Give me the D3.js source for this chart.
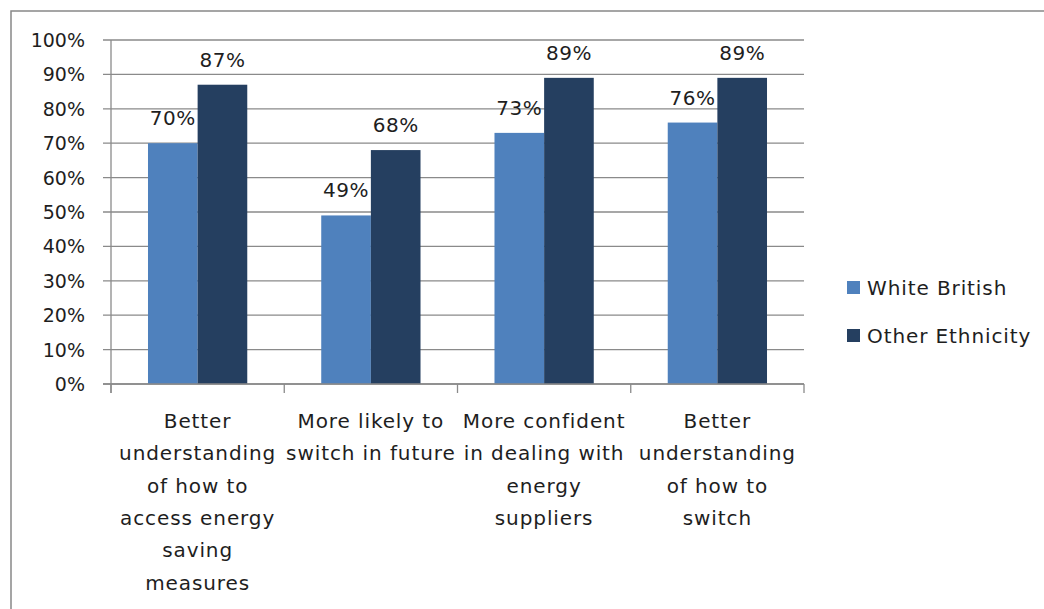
<!DOCTYPE html>
<html>
<head>
  <script src="https://d3js.org/d3.v7.min.js"></script>
  <style>
    body { margin: 0; background: #fff; }
    text { font-family: "DejaVu Sans", sans-serif; fill: #1e1e1e; }
    .grid line { stroke: #8a8a8a; stroke-width: 1.3px; }
  </style>
</head>
<body>
  <svg width="1044" height="609"></svg>
  <script>
    const categories = [
      ["Better", "understanding", "of how to", "access energy", "saving", "measures"],
      ["More likely to", "switch in future"],
      ["More confident", "in dealing with", "energy", "suppliers"],
      ["Better", "understanding", "of how to", "switch"]
    ];
    const seriesNames = ["White British", "Other Ethnicity"];
    const whiteBritish = [70, 49, 73, 76];
    const otherEthnicity = [87, 68, 89, 89];
    const yTicks = [0, 10, 20, 30, 40, 50, 60, 70, 80, 90, 100];
    const colors = ["#4f81bd", "#253f60"];

    const svg = d3.select('svg');
    const values = [whiteBritish, otherEthnicity];

    // outer chart border (runs off right and bottom like the source)
    svg.append('rect')
      .attr('x', 11).attr('y', 11)
      .attr('width', 1040).attr('height', 610)
      .attr('fill', 'none').attr('stroke', '#888').attr('stroke-width', 1.5);

    const plotLeft = 111, plotRight = 804, plotTop = 40, plotBottom = 384;

    const x0 = d3.scaleBand().domain(d3.range(categories.length)).range([plotLeft, plotRight]);
    const bw = x0.bandwidth();
    const x1 = d3.scaleBand().domain(seriesNames).range([bw * 0.2135, bw - bw * 0.2135]);
    const y = d3.scaleLinear().domain([0, 100]).range([plotBottom, plotTop]);

    // gridlines
    svg.append('g').attr('class', 'grid')
      .selectAll('line').data(yTicks).enter().append('line')
      .attr('x1', plotLeft - 8).attr('x2', plotRight)
      .attr('y1', d => y(d)).attr('y2', d => y(d));

    // y tick labels
    svg.append('g').selectAll('text').data(yTicks).enter().append('text')
      .attr('x', 85).attr('y', d => y(d) + 7)
      .attr('text-anchor', 'end')
      .style('font-size', '19px')
      .text(d => d + '%');

    // bars
    const groups = svg.append('g').selectAll('g')
      .data(categories.map((c, i) => i)).enter().append('g')
      .attr('transform', i => `translate(${x0(i)},0)`);

    groups.selectAll('rect')
      .data(i => seriesNames.map((s, k) => ({ s, k, v: values[k][i] })))
      .enter().append('rect')
      .attr('x', d => x1(d.s))
      .attr('width', x1.bandwidth())
      .attr('y', d => y(d.v))
      .attr('height', d => plotBottom - y(d.v))
      .attr('fill', d => colors[d.k]);

    groups.selectAll('text.val')
      .data(i => seriesNames.map((s, k) => ({ s, k, v: values[k][i] })))
      .enter().append('text')
      .attr('class', 'val')
      .attr('x', d => x1(d.s) + x1.bandwidth() / 2)
      .attr('y', d => y(d.v) - 18)
      .attr('text-anchor', 'middle')
      .style('font-size', '20px')
      .style('letter-spacing', '0.5px')
      .text(d => d.v + '%');

    // axes lines
    svg.append('line')
      .attr('x1', plotLeft).attr('x2', plotLeft).attr('y1', plotTop).attr('y2', plotBottom + 9)
      .attr('stroke', '#8a8a8a').attr('stroke-width', 1.3);
    svg.append('line')
      .attr('x1', plotLeft - 8).attr('x2', plotRight).attr('y1', plotBottom).attr('y2', plotBottom)
      .attr('stroke', '#8a8a8a').attr('stroke-width', 1.3);
    svg.append('g').selectAll('line')
      .data(d3.range(categories.length + 1)).enter().append('line')
      .attr('x1', i => plotLeft + i * bw).attr('x2', i => plotLeft + i * bw)
      .attr('y1', plotBottom).attr('y2', plotBottom + 9)
      .attr('stroke', '#8a8a8a').attr('stroke-width', 1.3);

    // category labels
    const cat = svg.append('g').selectAll('text')
      .data(categories).enter().append('text')
      .attr('text-anchor', 'middle')
      .style('font-size', '20px')
      .style('letter-spacing', '0.9px');
    cat.each(function(lines, i) {
      d3.select(this).selectAll('tspan').data(lines).enter().append('tspan')
        .attr('x', x0(i) + bw / 2)
        .attr('y', (d, j) => 428 + j * 32.3)
        .text(d => d);
    });

    // legend
    const legend = svg.append('g').selectAll('g')
      .data(seriesNames).enter().append('g')
      .attr('transform', (d, i) => `translate(847,${281 + i * 48})`);
    legend.append('rect')
      .attr('width', 13).attr('height', 13)
      .attr('fill', (d, i) => colors[i]);
    legend.append('text')
      .attr('x', 20).attr('y', 14)
      .style('font-size', '20px')
      .style('letter-spacing', '0.9px')
      .text(d => d);
  </script>
</body>
</html>
